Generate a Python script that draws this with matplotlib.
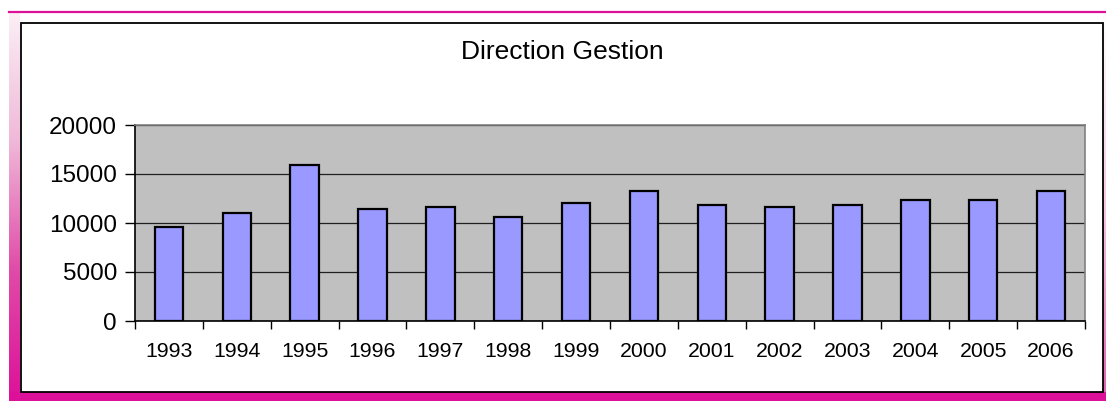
import numpy as np
import matplotlib
matplotlib.use("Agg")
import matplotlib.pyplot as plt
from matplotlib.patches import Rectangle
from matplotlib.colors import LinearSegmentedColormap

# Annual values
years = ["1993", "1994", "1995", "1996", "1997", "1998", "1999",
         "2000", "2001", "2002", "2003", "2004", "2005", "2006"]
values = [9600, 11000, 15900, 11400, 11600, 10600, 12000,
          13300, 11800, 11600, 11800, 12300, 12300, 13300]
title = "Direction Gestion"
yticks = [0, 5000, 10000, 15000, 20000]

W, H = 1106, 401
plt.rcParams["font.family"] = ["Liberation Sans", "DejaVu Sans"]

fig = plt.figure(figsize=(W / 100, H / 100), dpi=100)
fig.patch.set_facecolor("white")


def fx(px):
    return px / W


def fy(py):
    return 1 - py / H


MAGENTA = "#DD1199"

# Decorative frame: gradient band on the left, solid band at the bottom
band_cmap = LinearSegmentedColormap.from_list("band", ["#FBEFF6", "#F0B8D8", "#E04AA8", MAGENTA])
lax = fig.add_axes([fx(9), fy(401), fx(11), (401 - 12) / H])
lax.imshow(np.linspace(0, 1, 256).reshape(-1, 1), aspect="auto", cmap=band_cmap,
           extent=[0, 1, 0, 1], origin="upper")
lax.set_axis_off()

rax = fig.add_axes([fx(1103), fy(401), fx(3), (401 - 12) / H])
rax.imshow(np.linspace(0, 1, 256).reshape(-1, 1), aspect="auto",
           cmap=LinearSegmentedColormap.from_list("r", ["#FFFFFF", "#F6C8E2", "#E060B0"]),
           extent=[0, 1, 0, 1], origin="upper")
rax.set_axis_off()

fig.patches.append(Rectangle((fx(9), fy(401)), fx(1097), (401 - 392) / H,
                             transform=fig.transFigure, facecolor=MAGENTA,
                             edgecolor="none", zorder=2))
fig.add_artist(plt.Line2D([fx(9), fx(1106)], [fy(12), fy(12)],
                          transform=fig.transFigure, color=MAGENTA, lw=1.6, zorder=3))

# White chart area with black border
fig.patches.append(Rectangle((fx(20.5), fy(392)), fx(1103 - 20.5), (392 - 23) / H,
                             transform=fig.transFigure, facecolor="white",
                             edgecolor="black", lw=1.3, zorder=4))

# Plot area
ax = fig.add_axes([fx(135), fy(321), fx(1085 - 135), (321 - 125) / H], zorder=5)
ax.set_facecolor("#C0C0C0")
x = np.arange(len(years))
ax.bar(x, values, width=0.42, color="#9999FF", edgecolor="black", linewidth=1.6, zorder=3)

ax.set_xlim(-0.5, len(years) - 0.5)
ax.set_ylim(0, 20000)
ax.set_yticks(yticks)
ax.set_yticklabels([str(v) for v in yticks], fontsize=17.5)
ax.yaxis.grid(True, color="#202020", linewidth=0.9)
ax.set_axisbelow(True)

ax.set_xticks(x)
ax.set_xticklabels(years, fontsize=15.3)
ax.set_xticks(np.arange(len(years) + 1) - 0.5, minor=True)
ax.tick_params(axis="x", which="major", length=0, pad=15)
ax.tick_params(axis="x", which="minor", length=6, width=1, color="black", direction="out")
ax.tick_params(axis="y", length=7, width=1, color="black", direction="out", pad=6)

for side in ["top", "right"]:
    ax.spines[side].set_color("#808080")
    ax.spines[side].set_linewidth(1.2)
for side in ["left", "bottom"]:
    ax.spines[side].set_color("black")
    ax.spines[side].set_linewidth(1.2)

fig.text(fx(562), fy(52), title, ha="center", va="center", fontsize=19, zorder=6)

fig.savefig("out.png", dpi=100)
